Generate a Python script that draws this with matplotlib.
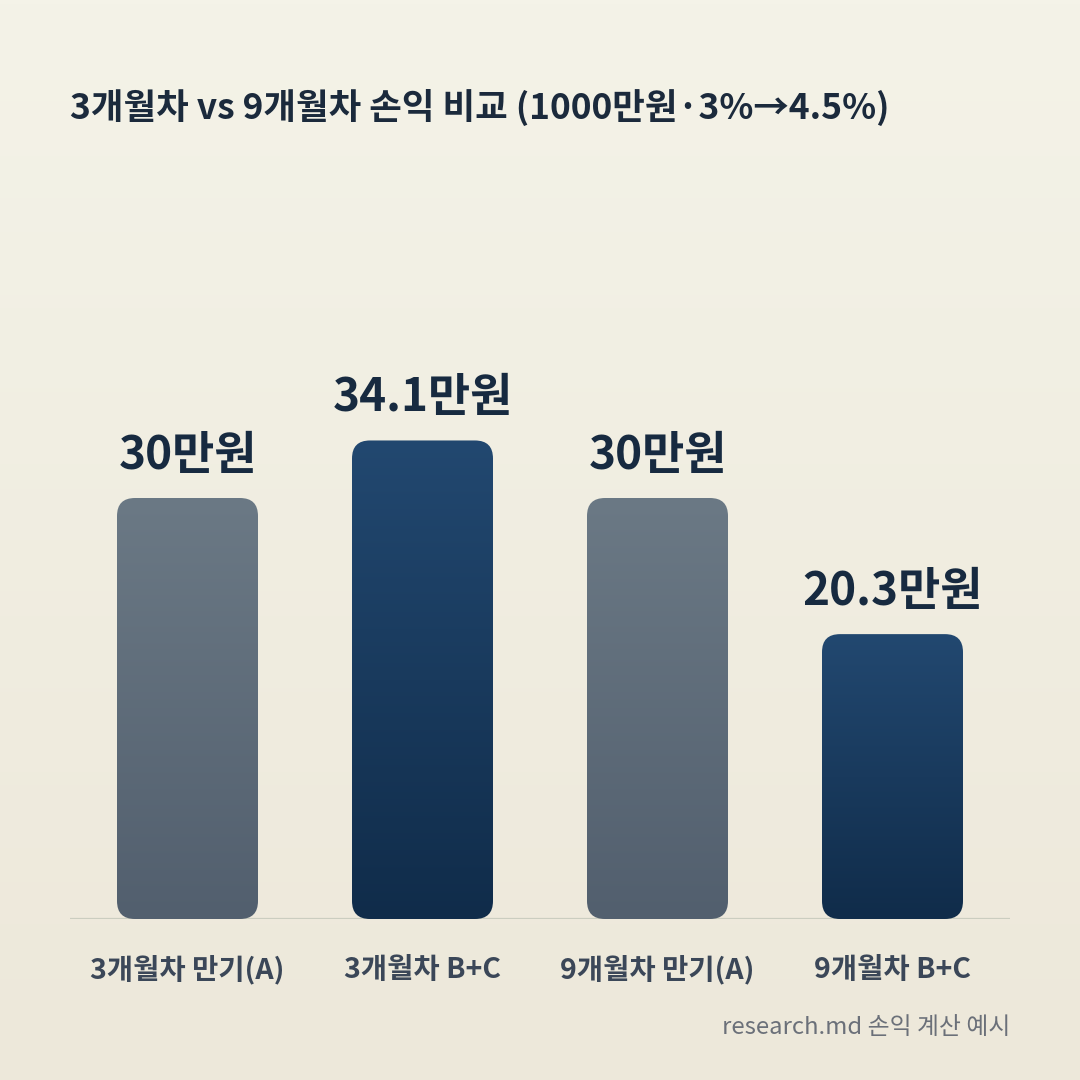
import matplotlib

matplotlib.use("Agg")
import matplotlib.pyplot as plt
import numpy as np
from matplotlib.colors import LinearSegmentedColormap
from matplotlib.patches import FancyBboxPatch

plt.rcParams["font.family"] = ["Noto Sans CJK KR", "DejaVu Sans"]

categories = ["3개월차 만기(A)", "3개월차 B+C", "9개월차 만기(A)", "9개월차 B+C"]
values = [30, 34.1, 30, 20.3]
value_labels = ["30만원", "34.1만원", "30만원", "20.3만원"]
kinds = ["gray", "navy", "gray", "navy"]
title = "3개월차 vs 9개월차 손익 비교 (1000만원·3%→4.5%)"
footer = "research.md 손익 계산 예시"

gradients = {
    "gray": ("#6b7985", "#525f6e"),
    "navy": ("#224870", "#102c4a"),
}

W = H = 1080
fig = plt.figure(figsize=(10.8, 10.8), dpi=100)

# background
bg = fig.add_axes([0, 0, 1, 1])
bg_cmap = LinearSegmentedColormap.from_list("bg", ["#f4f3e8", "#ede8da"])
bg.imshow(np.linspace(0, 1, 256).reshape(-1, 1), aspect="auto", cmap=bg_cmap,
          extent=[0, 1, 0, 1])
bg.set_axis_off()

# plot area: x 70..1010 px, baseline at 919 px
left, right, base, top = 70, 1010, 919, 280
ax = fig.add_axes([left / W, 1 - base / H, (right - left) / W, (base - top) / H])
ax.patch.set_alpha(0)
px_per_unit = 421 / 30
ax.set_xlim(-0.5, 3.5)
ax.set_ylim(0, (base - top) / px_per_unit)
ax.set_axis_off()

x = np.arange(len(values))
bars = ax.bar(x, values, width=0.6, alpha=0)

x_per_px = 4 / (right - left)
y_per_px = 1 / px_per_unit
radius = 18 * x_per_px
for rect, kind, label in zip(bars, kinds, value_labels):
    bx, bw, bh = rect.get_x(), rect.get_width(), rect.get_height()
    patch = FancyBboxPatch((bx, 0), bw, bh,
                           boxstyle=f"round,pad=0,rounding_size={radius}",
                           mutation_aspect=y_per_px / x_per_px,
                           facecolor="none", edgecolor="none")
    ax.add_patch(patch)
    cmap = LinearSegmentedColormap.from_list(kind, [gradients[kind][1], gradients[kind][0]])
    im = ax.imshow(np.linspace(0, 1, 256).reshape(-1, 1), origin="lower", aspect="auto",
                   cmap=cmap, extent=[bx, bx + bw, 0, bh], zorder=2)
    im.set_clip_path(patch)
    ax.text(bx + bw / 2, bh + 19 * y_per_px, label, ha="center", va="bottom",
            fontsize=33, fontweight="bold", color="#172a40", zorder=3)

ax.set_xlim(-0.5, 3.5)
ax.set_ylim(0, (base - top) / px_per_unit)
ax.axhline(0, color="#cbcdc0", linewidth=1.6, zorder=1)

for xi, cat in zip(x, categories):
    ax.text(xi, -(970 - base) * y_per_px, cat, ha="center", va="center",
            fontsize=20.5, fontweight="bold", color="#3b4758")

fig.text(left / W, 1 - 107 / H, title, ha="left", va="center",
         fontsize=25.5, fontweight="bold", color="#1b2a3c")
fig.text(right / W, 1 - 1027 / H, footer, ha="right", va="center",
         fontsize=17.2, color="#6b7079")

fig.savefig("out.png", dpi=100)
